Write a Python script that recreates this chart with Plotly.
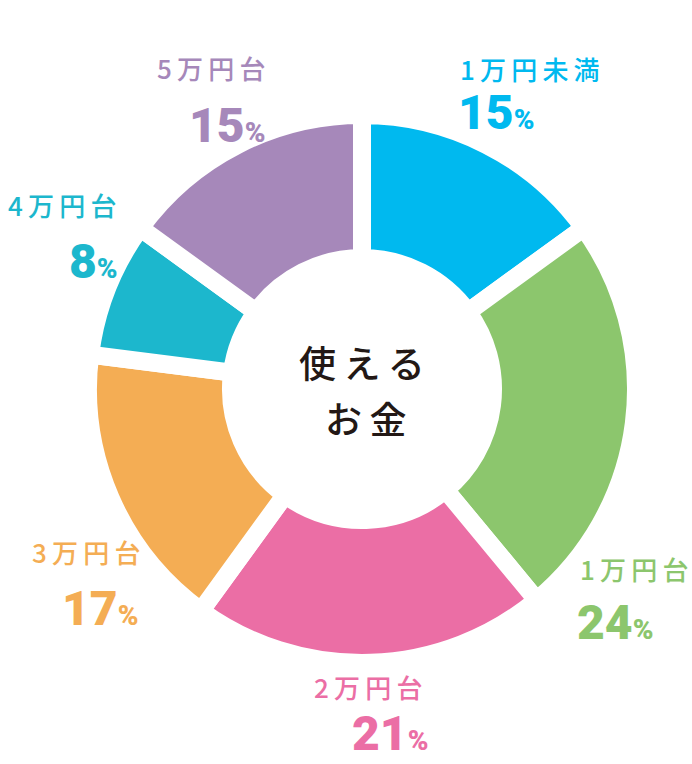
"""Donut chart: 使えるお金 distribution."""

import plotly.graph_objects as go

W, H = 692, 764

labels = ["1万円未満", "1万円台", "2万円台", "3万円台", "4万円台", "5万円台"]
values = [15, 24, 21, 17, 8, 15]
colors = ["#00B9EF", "#8CC66D", "#EB6EA5", "#F4AD54", "#1CB7CD", "#A688BA"]

# label anchor (px from top-left), alignment
label_pos = [
    (458, 68, 456, 113, "left"),
    (578, 568, 575, 622, "left"),
    (424, 686, 430, 733, "right"),
    (142, 551, 140, 608, "right"),
    (118, 205, 120, 261, "right"),
    (267, 67, 267, 125, "right"),
]

JP_FONT = "Noto Sans CJK JP"
NUM_FONT = "Roboto"
THIN = "\u2009"


def px(x, y):
    return x / W, 1 - y / H


fig = go.Figure()

gap = 18
r = 265 + gap / 2
cx, cy = 362, 389

fig.add_trace(go.Pie(
    labels=labels,
    values=values,
    sort=False,
    direction="clockwise",
    rotation=0,
    hole=(140 - gap / 2) / r,
    marker=dict(colors=colors, line=dict(color="white", width=gap)),
    textinfo="none",
    hoverinfo="label+percent",
    showlegend=False,
    domain=dict(
        x=[(cx - r) / W, (cx + r) / W],
        y=[(H - cy - r) / H, (H - cy + r) / H],
    ),
))

annotations = []
for lab, val, col, (lx, ly, vx, vy, al) in zip(labels, values, colors, label_pos):
    x, y = px(lx, ly)
    annotations.append(dict(
        x=x, y=y, xref="paper", yref="paper",
        xanchor=al, yanchor="middle",
        text=THIN.join(lab), showarrow=False,
        font=dict(family=JP_FONT, size=26, color=col, weight=500),
    ))
    x, y = px(vx, vy)
    annotations.append(dict(
        x=x, y=y, xref="paper", yref="paper",
        xanchor=al, yanchor="middle",
        text=f"{val}<span style='font-size:28px'>%</span>",
        showarrow=False,
        font=dict(family=NUM_FONT, size=48, color=col, weight=900),
    ))

# center title, two lines
for line, ly in [("使える", 362), ("お金", 418)]:
    x, y = px(cx + (3 if line == "お金" else 0), ly)
    annotations.append(dict(
        x=x, y=y, xref="paper", yref="paper",
        xanchor="center", yanchor="middle",
        text=THIN.join(line), showarrow=False,
        font=dict(family=JP_FONT, size=37, color="#231815", weight=500),
    ))

fig.update_layout(
    width=W, height=H,
    margin=dict(l=0, r=0, t=0, b=0),
    paper_bgcolor="white",
    plot_bgcolor="white",
    annotations=annotations,
)

fig.write_html(
    "out.html",
    config={"displayModeBar": False},
    post_script="document.body.style.margin='0';",
)
